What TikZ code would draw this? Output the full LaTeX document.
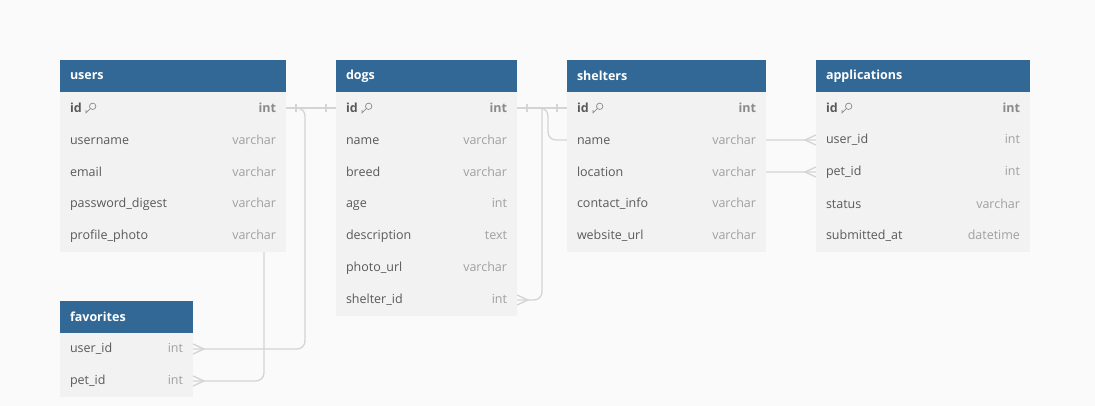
\documentclass[tikz,border=0pt]{standalone}
\usepackage{fontspec}
\setmainfont{Open Sans}
\usetikzlibrary{positioning,backgrounds}

\definecolor{canvas}{HTML}{FAFAFA}
\definecolor{headblue}{HTML}{316896}
\definecolor{rowgray}{HTML}{F2F2F2}
\definecolor{fieldtext}{HTML}{595959}
\definecolor{typetext}{HTML}{A0A0A0}
\definecolor{idtype}{HTML}{8A8A8A}
\definecolor{linkgray}{HTML}{D4D4D4}

% key symbol behind primary keys
\newcommand{\keyicon}{\hspace{4pt}\tikz[x=1pt,y=1pt,baseline=0pt,line width=0.7pt,draw=idtype]{%
  \draw (7,6.2) circle (3.2);
  \draw (4.7,3.9) -- (0.4,-0.4) -- (0.4,2.4) (1.9,1.1) -- (3.4,2.6);}}
\newcommand{\ftype}[1]{\hfill\textcolor{typetext}{#1}}
\newcommand{\fkey}[1]{\textbf{#1}\keyicon\hfill\textcolor{idtype}{\textbf{int}}}

\begin{document}
\begin{tikzpicture}[x=1pt,y=-1pt,
  every node/.style={font=\fontsize{12.5}{15}\selectfont},
  tblhead/.style={anchor=north west, fill=headblue, text=white,
    font=\bfseries\fontsize{12.5}{15}\selectfont, text width=#1,
    inner xsep=10pt, inner ysep=0pt, minimum height=32pt, outer sep=0pt},
  tblrow/.style={fill=rowgray, text=fieldtext, text width=#1,
    inner xsep=10pt, inner ysep=0pt, minimum height=32pt, outer sep=0pt},
  link/.style={draw=linkgray, line width=1.3pt, rounded corners=8pt}]

  \useasboundingbox (0,0) rectangle (1095,406);

  % users
  \node[tblhead=206pt] (users) at (60,60) {users};
  \node[tblrow=206pt, below=0pt of users]          (users-id)       {\fkey{id}};
  \node[tblrow=206pt, below=0pt of users-id]       (users-username) {username\ftype{varchar}};
  \node[tblrow=206pt, below=0pt of users-username] (users-email)    {email\ftype{varchar}};
  \node[tblrow=206pt, below=0pt of users-email]    (users-password) {password\_digest\ftype{varchar}};
  \node[tblrow=206pt, below=0pt of users-password] (users-photo)    {profile\_photo\ftype{varchar}};

  % dogs
  \node[tblhead=161pt] (dogs) at (336,60) {dogs};
  \node[tblrow=161pt, below=0pt of dogs]             (dogs-id)      {\fkey{id}};
  \node[tblrow=161pt, below=0pt of dogs-id]          (dogs-name)    {name\ftype{varchar}};
  \node[tblrow=161pt, below=0pt of dogs-name]        (dogs-breed)   {breed\ftype{varchar}};
  \node[tblrow=161pt, below=0pt of dogs-breed]       (dogs-age)     {age\ftype{int}};
  \node[tblrow=161pt, below=0pt of dogs-age]         (dogs-descr)   {description\ftype{text}};
  \node[tblrow=161pt, below=0pt of dogs-descr]       (dogs-photo)   {photo\_url\ftype{varchar}};
  \node[tblrow=161pt, below=0pt of dogs-photo]       (dogs-shelter) {shelter\_id\ftype{int}};

  % shelters
  \node[tblhead=179pt] (shelters) at (567,60) {shelters};
  \node[tblrow=179pt, below=0pt of shelters]          (shelters-id)       {\fkey{id}};
  \node[tblrow=179pt, below=0pt of shelters-id]       (shelters-name)     {name\ftype{varchar}};
  \node[tblrow=179pt, below=0pt of shelters-name]     (shelters-location) {location\ftype{varchar}};
  \node[tblrow=179pt, below=0pt of shelters-location] (shelters-contact)  {contact\_info\ftype{varchar}};
  \node[tblrow=179pt, below=0pt of shelters-contact]  (shelters-web)      {website\_url\ftype{varchar}};

  % applications
  \node[tblhead=194pt] (applications) at (816,60) {applications};
  \node[tblrow=194pt, below=0pt of applications]       (applications-id)     {\fkey{id}};
  \node[tblrow=194pt, below=0pt of applications-id]    (applications-user)   {user\_id\ftype{int}};
  \node[tblrow=194pt, below=0pt of applications-user]  (applications-pet)    {pet\_id\ftype{int}};
  \node[tblrow=194pt, below=0pt of applications-pet]   (applications-status) {status\ftype{varchar}};
  \node[tblrow=194pt, below=0pt of applications-status](applications-date)   {submitted\_at\ftype{datetime}};

  % favorites
  \node[tblhead=113pt] (favorites) at (60,301) {favorites};
  \node[tblrow=113pt, below=0pt of favorites]      (favorites-user) {user\_id\ftype{int}};
  \node[tblrow=113pt, below=0pt of favorites-user] (favorites-pet)  {pet\_id\ftype{int}};

  \begin{scope}[on background layer]
    \fill[canvas] (0,0) rectangle (1095,406);

    % references
    \draw[link] (users-id.east) -- (dogs-id.west);
    \draw[link] (dogs-id.east) -- (shelters-id.west);
    \draw[link] (users-id.east) -- ++(19,0) |- (favorites-user.east);
    \draw[link] (dogs-id.west) -- ++(-72,0) |- (favorites-pet.east);
    \draw[link] (dogs-shelter.east) -| ([xshift=25pt]dogs-id.east);
    \draw[link] (users-id.east) -- ++(262,0) |- (applications-user.west);
    \draw[link] (dogs-id.east) -- ++(75,0) |- (applications-pet.west);

    % one ends
    \draw[link] ([xshift=10pt,yshift=4pt]users-id.east) -- ([xshift=10pt,yshift=-4pt]users-id.east);
    \draw[link] ([xshift=-10pt,yshift=4pt]dogs-id.west) -- ([xshift=-10pt,yshift=-4pt]dogs-id.west);
    \draw[link] ([xshift=10pt,yshift=4pt]dogs-id.east) -- ([xshift=10pt,yshift=-4pt]dogs-id.east);
    \draw[link] ([xshift=-10pt,yshift=4pt]shelters-id.west) -- ([xshift=-10pt,yshift=-4pt]shelters-id.west);

    % many ends
    \draw[link,rounded corners=0pt] ([yshift=5pt]favorites-user.east) -- ([xshift=11pt]favorites-user.east) -- ([yshift=-5pt]favorites-user.east);
    \draw[link,rounded corners=0pt] ([yshift=5pt]favorites-pet.east) -- ([xshift=11pt]favorites-pet.east) -- ([yshift=-5pt]favorites-pet.east);
    \draw[link,rounded corners=0pt] ([yshift=5pt]dogs-shelter.east) -- ([xshift=11pt]dogs-shelter.east) -- ([yshift=-5pt]dogs-shelter.east);
    \draw[link,rounded corners=0pt] ([yshift=5pt]applications-user.west) -- ([xshift=-11pt]applications-user.west) -- ([yshift=-5pt]applications-user.west);
    \draw[link,rounded corners=0pt] ([yshift=5pt]applications-pet.west) -- ([xshift=-11pt]applications-pet.west) -- ([yshift=-5pt]applications-pet.west);
  \end{scope}
\end{tikzpicture}
\end{document}
